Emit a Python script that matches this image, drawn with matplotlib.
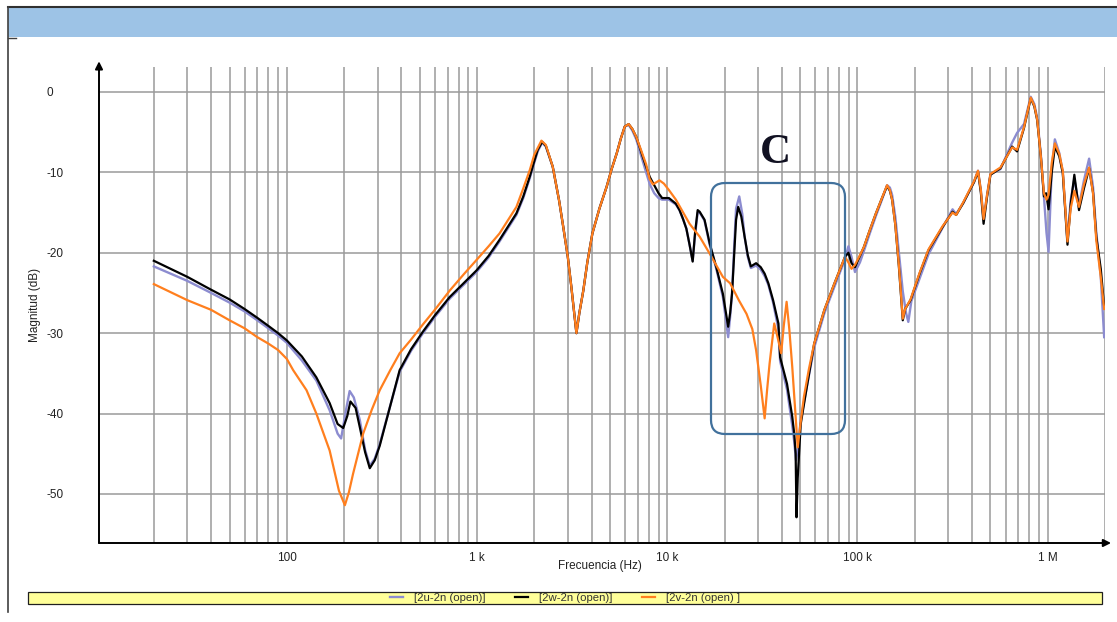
import matplotlib
matplotlib.use("Agg")
import matplotlib.pyplot as plt
from matplotlib.patches import Rectangle, FancyBboxPatch
from matplotlib.lines import Line2D
from matplotlib.transforms import IdentityTransform

plt.rcParams['font.family'] = ['Liberation Sans', 'DejaVu Sans']

# ---- measured responses (Hz, dB) ----
freq_w = [20, 30, 40, 50, 60, 70, 80, 90, 100, 120, 143, 168, 185, 198, 208, 216, 230, 242,
          258, 273, 290, 308, 350, 392, 450, 520, 600, 719, 850, 994, 1150, 1313, 1450, 1611,
          1750, 1895, 2000, 2085, 2200, 2300, 2500, 2700, 2840, 3000, 3130, 3250, 3330, 3450,
          3620, 3800, 4040, 4400, 4800, 5100, 5430, 5700, 5980, 6270, 6550, 6870, 7300, 7740,
          8100, 8540, 9000, 9400, 10200, 11100, 11600, 12100, 12600, 13100, 13600, 14000,
          14450, 14800, 15700, 16700, 18100, 19600, 20200, 20900, 21400, 21900, 22500, 23000,
          23600, 24500, 25500, 26500, 27500, 29300, 31000, 32500, 34000, 36000, 38400, 39200,
          42600, 45400, 46500, 47300, 47800, 48500, 50300, 54500, 59200, 67000, 75700, 86000,
          89600, 93000, 97000, 103000, 108000, 116000, 125000, 134000, 143000, 148000, 152000,
          158000, 165000, 170000, 173000, 178000, 190000, 212000, 236000, 280000, 316000,
          330000, 360000, 386000, 410000, 430000, 445000, 460000, 480000, 500000, 564000,
          650000, 690000, 750000, 814000, 850000, 880000, 920000, 955000, 980000, 1010000,
          1050000, 1090000, 1150000, 1200000, 1270000, 1320000, 1380000, 1460000, 1550000,
          1650000, 1730000, 1800000, 1900000, 1980000]
mag_w = [-21.0, -23.0, -24.6, -25.8, -27.0, -28.1, -29.1, -30.0, -30.9, -32.9, -35.5, -38.7,
         -41.3, -41.8, -40.3, -38.5, -39.3, -41.7, -44.8, -46.8, -45.8, -44.0, -39.0, -34.6,
         -32.0, -29.8, -27.8, -25.5, -23.8, -22.2, -20.4, -18.4, -16.8, -15.1, -13.0, -10.5,
         -8.6, -7.2, -6.2, -6.7, -9.3, -13.5, -16.8, -20.5, -24.2, -27.8, -30.0, -27.5, -24.7,
         -21.2, -17.6, -14.5, -11.8, -9.6, -7.6, -5.8, -4.3, -4.0, -4.6, -5.6, -7.5, -9.3,
         -10.6, -11.6, -12.6, -13.2, -13.2, -13.9, -14.7, -15.8, -17.0, -19.0, -21.1, -17.5,
         -14.7, -14.9, -15.9, -18.8, -21.8, -25.1, -27.0, -29.2, -27.5, -25.1, -20.0, -15.9,
         -14.3, -15.5, -18.0, -20.3, -21.7, -21.3, -21.8, -22.6, -23.8, -25.9, -28.8, -33.0,
         -36.3, -40.4, -42.5, -45.0, -52.9, -48.0, -41.3, -36.3, -31.3, -27.1, -23.8, -20.5,
         -20.0, -21.3, -21.8, -20.4, -19.3, -17.2, -15.1, -13.3, -11.7, -12.3, -13.4, -16.5,
         -21.7, -26.0, -28.4, -27.0, -25.9, -22.6, -19.7, -16.8, -14.9, -15.3, -13.8, -12.4,
         -11.2, -9.9, -12.5, -16.4, -13.0, -10.3, -9.5, -6.8, -7.4, -4.5, -0.8, -1.8, -3.5,
         -8.0, -13.0, -12.6, -14.6, -10.0, -6.8, -8.0, -10.1, -19.0, -14.0, -10.3, -14.7,
         -12.0, -9.5, -12.5, -18.0, -22.0, -26.7]

freq_u = [20, 30, 40, 50, 60, 70, 80, 90, 100, 120, 143, 168, 185, 193, 205, 214, 225, 242,
          258, 273, 290, 308, 350, 392, 450, 520, 600, 719, 850, 994, 1150, 1313, 1450, 1611,
          1750, 1895, 2000, 2085, 2200, 2300, 2500, 2700, 2840, 3000, 3130, 3250, 3330, 3450,
          3620, 3800, 4040, 4400, 4800, 5100, 5430, 5700, 5980, 6270, 6550, 6870, 7300, 7740,
          8100, 8540, 9000, 9400, 10200, 11100, 11600, 12100, 12600, 13100, 13600, 14000,
          14450, 14800, 15700, 16700, 18100, 19600, 20200, 20900, 21400, 21900, 22500, 23000,
          23900, 24800, 25500, 26500, 27500, 29300, 31000, 32500, 34000, 36000, 38400, 39200,
          42600, 45400, 46500, 47500, 48500, 50300, 54500, 59200, 67000, 75700, 86000,
          89600, 93000, 97000, 103000, 108000, 116000, 125000, 134000, 143000, 148000, 152000,
          158000, 165000, 173000, 180000, 185000, 192000, 212000, 236000, 280000, 316000,
          330000, 360000, 386000, 410000, 430000, 445000, 460000, 480000, 500000, 564000,
          650000, 690000, 750000, 814000, 850000, 880000, 920000, 955000, 985000, 1010000,
          1050000, 1090000, 1150000, 1200000, 1270000, 1320000, 1380000, 1460000, 1550000,
          1650000, 1730000, 1800000, 1900000, 1980000]
mag_u = [-21.7, -23.5, -25.0, -26.2, -27.3, -28.4, -29.4, -30.3, -31.2, -33.4, -35.9, -39.6,
         -42.5, -43.1, -39.5, -37.2, -38.0, -40.8, -44.5, -46.5, -45.6, -43.8, -39.0, -34.8,
         -32.2, -30.0, -28.0, -25.7, -24.0, -22.4, -20.6, -18.6, -17.0, -15.3, -13.2, -10.7,
         -8.8, -7.4, -6.3, -6.8, -9.3, -13.5, -16.8, -20.5, -24.2, -27.8, -30.0, -27.5, -24.7,
         -21.2, -17.6, -14.5, -11.8, -9.6, -7.6, -5.8, -4.3, -4.1, -4.8, -5.9, -8.0, -10.0,
         -11.5, -12.6, -13.2, -13.4, -13.4, -14.0, -14.7, -15.8, -17.0, -19.0, -21.0, -17.8,
         -15.0, -15.0, -16.0, -19.0, -22.0, -25.5, -27.8, -30.5, -28.0, -25.0, -19.0, -14.5,
         -13.0, -15.2, -18.0, -20.5, -21.9, -21.6, -22.1, -22.9, -24.0, -26.2, -29.5, -33.5,
         -37.0, -41.5, -43.5, -45.8, -44.5, -40.8, -36.3, -31.8, -27.5, -24.2, -20.8,
         -19.2, -20.5, -22.4, -21.2, -19.8, -17.6, -15.4, -13.5, -11.6, -11.9, -12.8,
         -15.5, -20.0, -24.8, -27.5, -28.6, -26.0, -23.2, -20.2, -16.9, -14.6, -15.2, -13.8,
         -12.4, -11.2, -9.8, -12.2, -15.8, -12.8, -10.2, -9.6, -6.3, -5.1, -4.0, -0.6, -1.5,
         -3.2, -7.8, -13.0, -17.5, -19.9, -9.5, -5.9, -7.6, -10.0, -18.5, -13.5, -10.8, -14.2,
         -11.0, -8.3, -11.8, -17.5, -23.0, -30.5]

freq_v = [20, 30, 40, 50, 60, 70, 80, 90, 100, 108, 127, 143, 168, 188, 202, 212, 223, 252,
          280, 308, 350, 392, 450, 520, 600, 719, 850, 994, 1150, 1313, 1450, 1611, 1750,
          1895, 2000, 2180, 2300, 2500, 2700, 2840, 3000, 3130, 3250, 3330, 3450, 3620, 3800,
          4040, 4400, 4800, 5100, 5430, 5700, 5980, 6270, 6550, 6870, 7300, 7740, 8070, 8400,
          9100, 9600, 10200, 11100, 12000, 13100, 14800, 16700, 19600, 21400, 23900, 26100,
          28000, 29300, 31000, 32500, 33500, 34500, 36500, 38000, 39700, 41000, 42400, 43800,
          45400, 47000, 48500, 50300, 52300, 55500, 59200, 67000, 75700, 86000, 90000, 93000,
          97000, 103000, 108000, 116000, 125000, 134000, 143000, 148000, 152000, 158000,
          165000, 170000, 173000, 178000, 190000, 212000, 236000, 280000, 316000, 330000,
          360000, 386000, 410000, 430000, 445000, 460000, 480000, 500000, 564000, 650000,
          690000, 750000, 814000, 850000, 880000, 920000, 955000, 985000, 1010000, 1050000,
          1090000, 1150000, 1200000, 1270000, 1320000, 1380000, 1460000, 1550000, 1650000,
          1730000, 1800000, 1900000, 1980000]
mag_v = [-23.9, -25.9, -27.1, -28.4, -29.4, -30.5, -31.3, -32.1, -33.2, -34.6, -37.1, -40.0,
         -44.6, -49.6, -51.4, -49.8, -47.5, -42.5, -39.5, -37.1, -34.6, -32.5, -30.8, -28.9,
         -27.1, -24.7, -22.7, -20.9, -19.2, -17.6, -16.0, -14.3, -12.0, -9.7, -7.8, -6.06,
         -6.6, -9.3, -13.5, -16.8, -20.5, -24.2, -27.8, -30.0, -27.5, -24.7, -21.2, -17.6,
         -14.5, -11.8, -9.6, -7.6, -5.8, -4.3, -4.0, -4.6, -5.6, -7.3, -9.0, -10.8, -11.5,
         -11.0, -11.4, -12.2, -13.4, -14.8, -16.4, -18.0, -20.1, -23.0, -23.8, -26.0, -27.6,
         -29.5, -32.1, -36.5, -40.6, -37.0, -33.8, -28.8, -30.5, -32.5, -29.0, -26.1, -29.5,
         -34.2, -39.5, -44.2, -41.0, -37.9, -34.5, -31.3, -27.1, -23.8, -20.5, -21.3, -22.0,
         -21.5, -20.3, -19.3, -17.2, -15.1, -13.3, -11.6, -12.2, -13.4, -16.5, -21.5, -25.8,
         -28.2, -27.0, -25.8, -22.5, -19.6, -16.7, -15.0, -15.3, -13.7, -12.3, -11.1, -9.8,
         -12.2, -15.8, -12.8, -10.2, -9.4, -6.9, -7.2, -4.4, -0.7, -1.7, -3.4, -8.0, -12.6,
         -13.4, -12.8, -8.8, -6.4, -7.7, -9.8, -18.6, -14.5, -12.3, -14.3, -11.5, -9.4, -12.6,
         -18.5, -23.0, -27.0]

ytick_vals = [0, -10, -20, -30, -40, -50]
xtick_vals = [100, 1e3, 1e4, 1e5, 1e6]
xtick_labels = ['100', '1 k', '10 k', '100 k', '1 M']
series_names = ['[2u-2n (open)]', '[2w-2n (open)]', '[2v-2n (open) ]']

W, H = 1117, 622
fig = plt.figure(figsize=(W / 100, H / 100), dpi=100)
fig.patch.set_facecolor('white')

# page furniture: blue header band and frame line
fig.add_artist(Rectangle((8 / W, 1 - 37 / H), (W - 8) / W, 30 / H,
                         transform=fig.transFigure, facecolor='#9dc3e6', edgecolor='none'))
fig.add_artist(Line2D([8 / W, 1], [1 - 7 / H, 1 - 7 / H], color='#303030', lw=1.5))
fig.add_artist(Line2D([8 / W, 8 / W], [1 - 7 / H, 1 - 612 / H], color='#404040', lw=1.2))
fig.add_artist(Line2D([8 / W, 16 / W], [1 - 37.5 / H, 1 - 37.5 / H], color='#404040', lw=1.0))

ax = fig.add_axes([99 / W, 1 - 543 / H, 1006 / W, (543 - 67) / H])
ax.set_xscale('log')
ax.set_xlim(10.3, 2.0e6)
ax.set_ylim(-56.1, 3.1)

ax.plot(freq_u, mag_u, color='#8c8cd0', lw=1.7, label=series_names[0], zorder=3)
ax.plot(freq_w, mag_w, color='black', lw=1.6, label=series_names[1], zorder=4)
ax.plot(freq_v, mag_v, color='#ff7f1e', lw=1.6, label=series_names[2], zorder=5)

ax.set_xticks(xtick_vals)
ax.set_xticklabels(xtick_labels)
ax.set_xticks([m * 10 ** e for e in range(1, 7) for m in range(2, 10) if m * 10 ** e <= 2e6],
              minor=True)
ax.xaxis.set_minor_formatter(plt.NullFormatter())
ax.set_yticks(ytick_vals)
ax.set_yticklabels([str(v) for v in ytick_vals])
for lbl in ax.get_yticklabels():
    lbl.set_horizontalalignment('left')
ax.tick_params(axis='y', which='both', length=0, pad=37.5, labelsize=8.5, colors='#222222')
ax.tick_params(axis='x', which='both', length=0, pad=6.5, labelsize=8.5, colors='#222222')

ax.grid(True, which='both', axis='x', color='#9a9a9a', lw=1.1)
ax.grid(True, which='major', axis='y', color='#9a9a9a', lw=1.1)
ax.set_axisbelow(True)

for s in ax.spines.values():
    s.set_visible(False)
# axes drawn as arrows
ax.annotate('', xy=(0, 1.012), xytext=(0, 0), xycoords='axes fraction',
            arrowprops=dict(arrowstyle='-|>', color='black', lw=1.4, mutation_scale=11,
                            shrinkA=0, shrinkB=0), annotation_clip=False)
ax.annotate('', xy=(1.006, 0), xytext=(0, 0), xycoords='axes fraction',
            arrowprops=dict(arrowstyle='-|>', color='black', lw=1.4, mutation_scale=11,
                            shrinkA=0, shrinkB=0), annotation_clip=False)

fig.text(600 / W, 1 - 566 / H, 'Frecuencia (Hz)', ha='center', va='center',
         fontsize=8.5, color='#222222')
fig.text(35 / W, 1 - 305 / H, 'Magnitud (dB)', ha='center', va='center',
         rotation=90, fontsize=8.5, color='#222222')

# highlighted region "C"
fig.add_artist(FancyBboxPatch((711, H - 434), 134, 251,
                              boxstyle='round,pad=0,rounding_size=14',
                              transform=IdentityTransform(), facecolor='none',
                              edgecolor='#41719c', lw=1.6, zorder=10))
fig.text(775 / W, 1 - 153 / H, 'C', ha='center', va='center', fontsize=31,
         fontweight='bold', family='Liberation Serif', color='#111122')

# legend strip
fig.add_artist(Rectangle((28 / W, 1 - 604 / H), (1102 - 28) / W, 12 / H,
                         transform=fig.transFigure, facecolor='#ffff99',
                         edgecolor='#202020', lw=0.9))
handles, labels = ax.get_legend_handles_labels()
fig.legend(handles, labels, loc='center', bbox_to_anchor=(565 / W, 1 - 598 / H), ncol=3,
           frameon=False, fontsize=8.2, handlelength=1.1, handletextpad=1.0,
           columnspacing=2.6, labelcolor='#333333', borderpad=0)

fig.savefig('out.png', dpi=100)
